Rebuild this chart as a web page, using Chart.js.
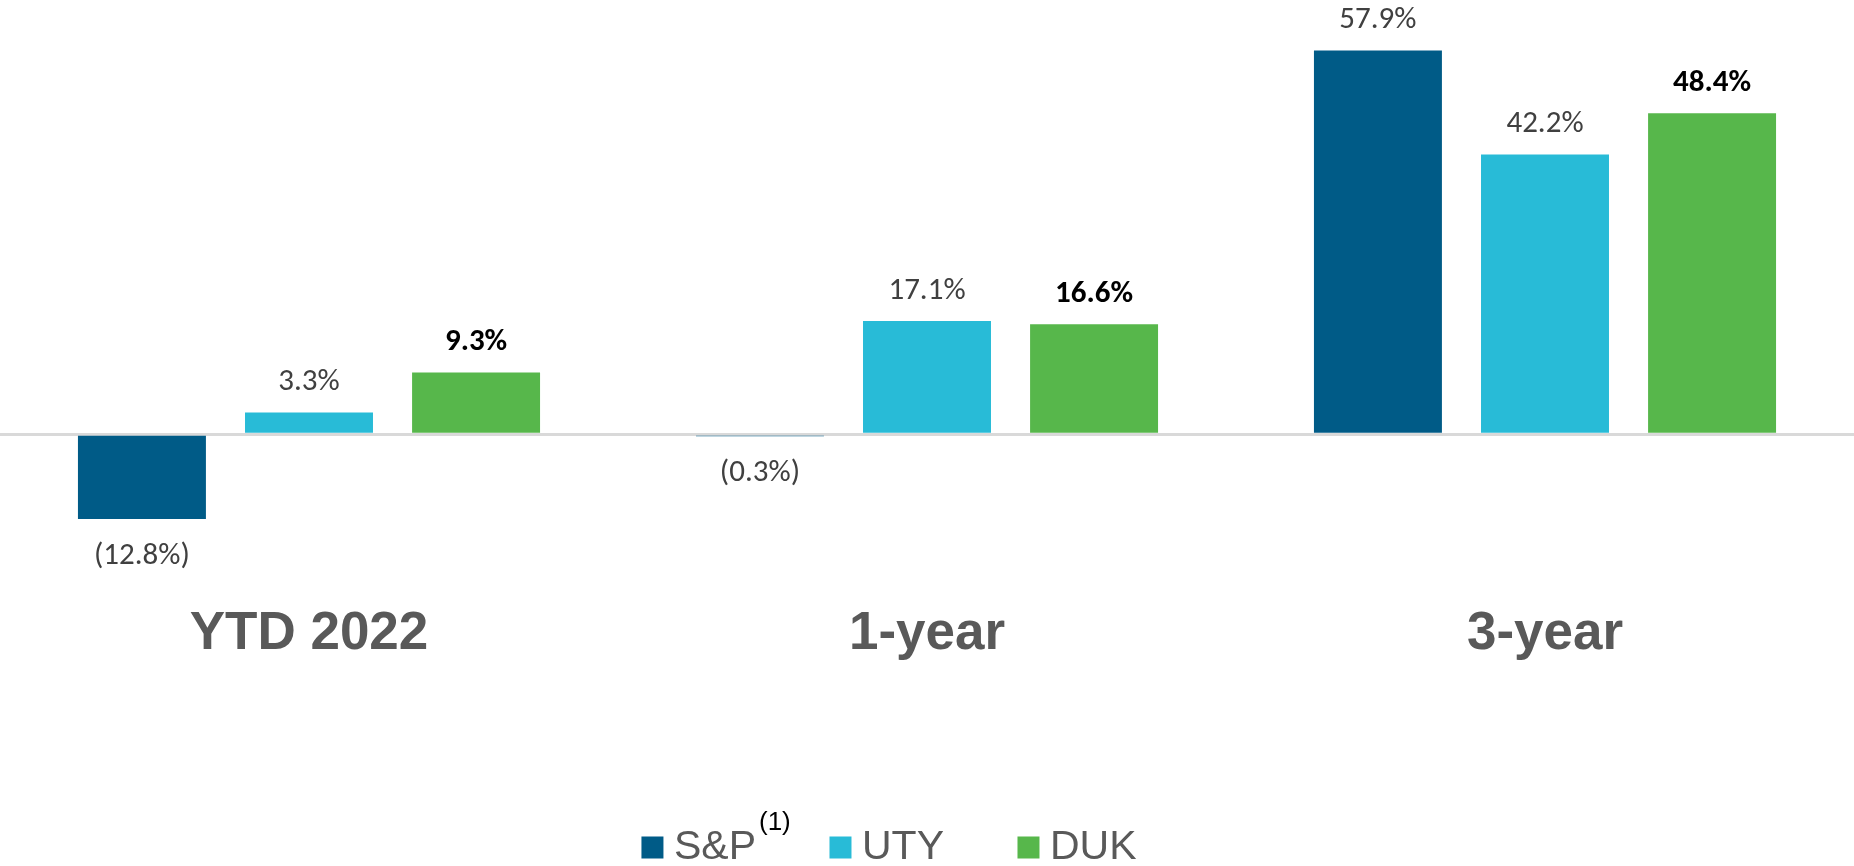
<!DOCTYPE html>
<html><head><meta charset="utf-8">
<script src="https://cdn.jsdelivr.net/npm/chart.js@4.4.0/dist/chart.umd.min.js"></script>
<style>html,body{margin:0;padding:0;background:#fff;} #wrap{width:1854px;height:866px;position:relative;}</style>
</head><body><div id="wrap"><canvas id="c"></canvas></div>
<script>
// ---- data ----
const categories = ['YTD 2022', '1-year', '3-year'];
const seriesNames = ['S&P', 'UTY', 'DUK'];
const spValues = [-12.8, -0.3, 57.9];
const utyValues = [3.3, 17.1, 42.2];
const dukValues = [9.3, 16.6, 48.4];
const legendNote = '(1)';

// ---- styles ----
const seriesColors = ['#005B87', '#28BBD7', '#57B74B'];
const arial = '"Liberation Sans", Arial, sans-serif';
const labelFamily = 'Carlito, Lato, sans-serif';

function fmt(v) {
  return v < 0 ? '(' + Math.abs(v).toFixed(1) + '%)' : v.toFixed(1) + '%';
}

const valueLabels = {
  id: 'valueLabels',
  afterDatasetsDraw(chart) {
    const ctx = chart.ctx;
    chart.data.datasets.forEach((ds, di) => {
      const meta = chart.getDatasetMeta(di);
      meta.data.forEach((bar, i) => {
        const v = ds.data[i];
        const bold = di === 2;
        ctx.save();
        ctx.font = (bold ? 'bold ' : '') + '31px ' + labelFamily;
        ctx.fillStyle = bold ? '#000000' : '#404040';
        ctx.textAlign = 'center';
        ctx.textBaseline = 'middle';
        const y = v < 0 ? bar.y + 37 : bar.y - 30;
        ctx.fillText(fmt(v), bar.x, y);
        ctx.restore();
      });
    });
  }
};

const legendAdjust = {
  id: 'legendAdjust',
  afterLayout(chart) {
    const lg = chart.legend;
    lg.left -= 33; lg.right -= 33;
    lg.top += 12; lg.bottom += 12;
  },
  afterDraw(chart) {
    const lg = chart.legend;
    const hb = lg.legendHitBoxes && lg.legendHitBoxes[0];
    if (!hb) return;
    const ctx = chart.ctx;
    ctx.save();
    ctx.font = '26px ' + arial;
    ctx.fillStyle = '#000000';
    ctx.textAlign = 'left';
    ctx.textBaseline = 'middle';
    ctx.fillText(legendNote, hb.left + hb.width + 3, hb.top - 4);
    ctx.restore();
  }
};

new Chart(document.getElementById('c'), {
  type: 'bar',
  data: {
    labels: categories,
    datasets: [
      { label: seriesNames[0], data: spValues, backgroundColor: seriesColors[0] },
      { label: seriesNames[1], data: utyValues, backgroundColor: seriesColors[1] },
      { label: seriesNames[2], data: dukValues, backgroundColor: seriesColors[2] }
    ]
  },
  options: {
    responsive: true,
    maintainAspectRatio: false,
    animation: false,
    categoryPercentage: 0.811,
    barPercentage: 0.766,
    layout: { padding: 0 },
    plugins: {
      tooltip: { enabled: false },
      legend: {
        position: 'bottom',
        labels: {
          usePointStyle: true, pointStyle: 'rect',
          boxWidth: 2, boxHeight: 22, padding: 83.5,
          color: '#595959',
          font: { family: arial, size: 41 }
        }
      }
    },
    scales: {
      x: {
        grid: { display: false, drawTicks: false },
        border: { display: false },
        ticks: {
          color: '#595959', padding: 3, maxRotation: 0, autoSkip: false,
          font: { family: arial, size: 53, weight: 'bold' }
        },
        afterFit(scale) { scale.height = 131.5; }
      },
      y: {
        min: -25, max: 65.5, z: 1,
        border: { display: false },
        ticks: { display: false, stepSize: 10 },
        grid: {
          drawTicks: false, lineWidth: 3,
          color: c => (c.tick && c.tick.value === 0) ? '#D9D9D9' : 'rgba(0,0,0,0)'
        }
      }
    }
  },
  plugins: [valueLabels, legendAdjust]
});
</script>
</body></html>
